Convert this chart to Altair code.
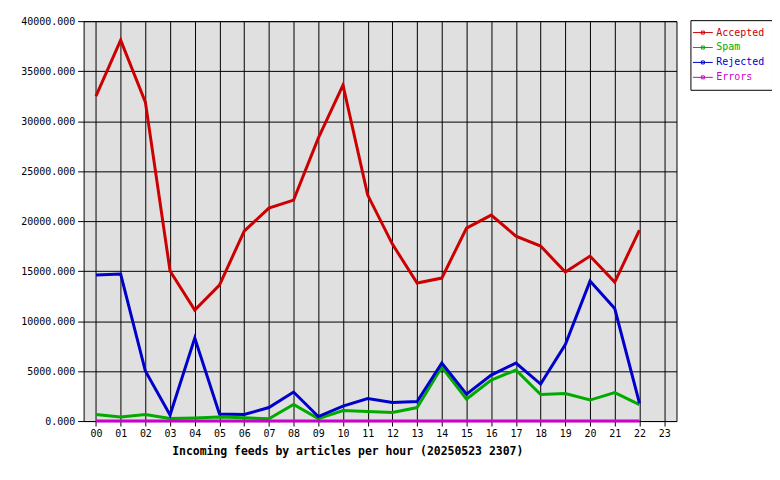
import altair as alt
import pandas as pd

hours = [f"{h:02d}" for h in range(24)]
data_hours = hours[:23]

accepted = [32500, 38100, 31900, 15000, 11100, 13600, 19000, 21300, 22100, 28300, 33600, 22600,
            17700, 13800, 14300, 19300, 20600, 18500, 17500, 14900, 16500, 13900, 19100]
spam = [650, 400, 650, 250, 300, 400, 330, 230, 1650, 250, 1050, 950,
        850, 1350, 5400, 2200, 4100, 5100, 2650, 2750, 2100, 2850, 1650]
rejected = [14600, 14700, 5000, 600, 8300, 700, 650, 1350, 2900, 450, 1500, 2250,
            1850, 1950, 5800, 2700, 4600, 5800, 3700, 7650, 14000, 11250, 1800]
errors = [0] * 23

series_names = ["Accepted", "Spam", "Rejected", "Errors"]
series_colors = ["#cc0000", "#00aa00", "#0000cc", "#cc00cc"]
y_ticks = [0, 5000, 10000, 15000, 20000, 25000, 30000, 35000, 40000]

rows = []
for name, vals in zip(series_names, [accepted, spam, rejected, errors]):
    for h, v in zip(data_hours, vals):
        rows.append({"hour": h, "value": v, "series": name, "order": series_names.index(name)})
df = pd.DataFrame(rows)

FONT = "DejaVu Sans Mono"

label_color_expr = (
    "datum.value == 'Accepted' ? '#cc0000' : datum.value == 'Spam' ? '#00aa00' : "
    "datum.value == 'Rejected' ? '#0000cc' : '#cc00cc'"
)

chart = (
    alt.Chart(df)
    .mark_line(strokeWidth=3, strokeJoin="miter", strokeCap="butt")
    .encode(
        x=alt.X(
            "hour:O",
            scale=alt.Scale(domain=hours, type="point", padding=0.5),
            axis=alt.Axis(
                title="Incoming feeds by articles per hour (20250523 2307)",
                labelAngle=0,
                labelFont=FONT,
                labelFontSize=10,
                labelColor="black",
                labelPadding=3,
                tickColor="black",
                tickSize=5,
                domain=False,
                grid=True,
                gridColor="black",
                gridOpacity=1,
                gridWidth=1,
                titleFont=FONT,
                titleFontSize=11.5,
                titleFontWeight="bold",
                titleColor="black",
                titleX=265,
                titleY=31,
                titleBaseline="middle",
                titleAnchor="start",
                titleAlign="center",
            ),
        ),
        y=alt.Y(
            "value:Q",
            scale=alt.Scale(domain=[0, 40000], nice=False),
            axis=alt.Axis(
                title=None,
                values=y_ticks,
                format=".3f",
                labelFont=FONT,
                labelFontSize=10,
                labelColor="black",
                labelPadding=3,
                tickColor="black",
                tickSize=6,
                domain=False,
                grid=True,
                gridColor="black",
                gridOpacity=1,
                gridWidth=1,
            ),
        ),
        color=alt.Color(
            "series:N",
            scale=alt.Scale(domain=series_names, range=series_colors),
            legend=alt.Legend(
                title=None,
                orient="none",
                legendX=610,
                legendY=-1,
                fillColor="white",
                strokeColor="black",
                padding=7,
                labelFont=FONT,
                labelFontSize=10,
                labelColor=alt.ExprRef(label_color_expr),
                labelOffset=8,
                rowPadding=4,
                symbolType="M-2,0H2M-0.3,-0.3H0.3V0.3H-0.3Z",
                symbolSize=100,
                symbolStrokeWidth=1,
                symbolFillColor="transparent",
            ),
        ),
        order=alt.Order("order:Q"),
    )
    .properties(
        width=596,
        height=402,
        autosize=alt.AutoSizeParams(type="none"),
        padding={"left": 76, "top": 12, "right": 96, "bottom": 50},
        background="white",
    )
    .configure_view(fill="#e0e0e0", stroke="black", strokeWidth=1)
)

chart.save("out.html", embed_options={"renderer": "svg", "actions": False})
